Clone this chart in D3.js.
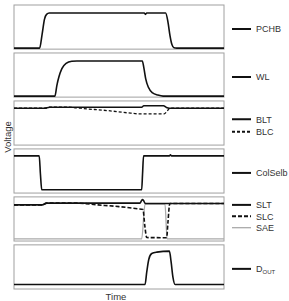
<!DOCTYPE html>
<html>
<head>
<meta charset="utf-8">
<script src="https://cdn.jsdelivr.net/npm/d3@7"></script>
<style>
  body { margin: 0; background: #fff; }
  text { font-family: "Liberation Sans", Arial, sans-serif; fill: #333; }
</style>
</head>
<body>
<div id="container"></div>
<script>
/* DATA - time in ns-ish units, voltage normalised to VDD */
const panels = ["PCHB", "WL", "BL", "ColSelb", "SL", "DOUT"];

const pchb = [[0,0],[1.22,0],[1.34,0.4],[1.45,0.82],[1.55,0.96],[1.68,1],[6.2,1],[6.26,0.96],[6.32,1],[7.22,1],[7.33,0.75],[7.43,0.35],[7.52,0.1],[7.62,0.01],[7.75,0],[10,0]];
const wl = [[0,0],[1.95,0],[2.04,0.3],[2.14,0.55],[2.28,0.78],[2.48,0.93],[2.75,0.99],[3,1],[6.11,1],[6.18,0.82],[6.27,0.5],[6.4,0.25],[6.6,0.09],[6.85,0.03],[7.1,0],[10,0]];
const blt = [[0,1.02],[1.45,1.02],[1.7,1.05],[6.08,1.05],[6.18,1.09],[7.12,1.09],[7.26,1.04],[7.4,1.02],[10,1.02]];
const blc = [[0,1.02],[1.45,1.02],[1.7,1.05],[2.5,1.05],[3.5,1.0],[4.5,0.95],[5.4,0.89],[6.0,0.86],[7.15,0.86],[7.28,0.93],[7.42,1.02],[10,1.02]];
const colselb = [[0,1.03],[1.2,1.03],[1.26,0.5],[1.32,0.07],[1.4,0.066],[6.08,0.066],[6.12,0.5],[6.17,1.03],[7.4,1.03],[7.45,1.06],[7.5,1.03],[10,1.03]];
const slt = [[0,1.0],[1.35,1.0],[1.55,1.05],[6.0,1.05],[6.07,1.12],[6.13,1.15],[6.19,1.1],[6.25,1.04],[10,1.04]];
const slc = [[0,1.0],[1.35,1.0],[1.55,1.05],[3.0,1.05],[4.0,1.0],[5.0,0.95],[5.9,0.89],[6.14,0.87],[6.23,0.4],[6.32,0.07],[7.27,0.066],[7.33,0.5],[7.42,1.04],[10,1.04]];
const sae = [[0,0.03],[6.08,0.03],[6.24,1.02],[7.19,1.02],[7.29,0.03],[10,0.03]];
const dout = [[0,0.1],[6.24,0.1],[6.32,0.45],[6.42,0.82],[6.56,0.98],[6.8,1.02],[7.4,1.05],[7.48,0.75],[7.57,0.3],[7.67,0.1],[10,0.1]];

/* series -> panel, line style */
const series = [
  { name: "PCHB", panel: "PCHB", data: pchb, style: "solid" },
  { name: "WL", panel: "WL", data: wl, style: "solid" },
  { name: "BLC", panel: "BL", data: blc, style: "dash" },
  { name: "BLT", panel: "BL", data: blt, style: "solid" },
  { name: "ColSelb", panel: "ColSelb", data: colselb, style: "solid" },
  { name: "SAE", panel: "SL", data: sae, style: "gray" },
  { name: "SLC", panel: "SL", data: slc, style: "dash2" },
  { name: "SLT", panel: "SL", data: slt, style: "solid" },
  { name: "DOUT", panel: "DOUT", data: dout, style: "solid" }
];

const legendGroups = {
  PCHB: ["PCHB"], WL: ["WL"], BL: ["BLT", "BLC"], ColSelb: ["ColSelb"],
  SL: ["SLT", "SLC", "SAE"], DOUT: ["DOUT"]
};

/* CONSTANTS */
const width = 289;
const height = 301;
const left = 14, right = 224;

const svg = d3.select("#container")
  .append("svg")
  .attr("width", width)
  .attr("height", height);

/* SCALES */
const xScale = d3.scaleLinear().domain([0, 10]).range([left, right]);

const panelScale = d3.scaleBand()
  .domain(panels)
  .range([5, 289])
  .paddingInner(0.08)
  .paddingOuter(0);

const yFor = p => {
  const top = panelScale(p), bottom = top + panelScale.bandwidth();
  return d3.scaleLinear().domain([0, 1]).range([bottom - 1, top + 8]);
};

const styles = {
  solid: { stroke: "#111", width: 1.6, dash: null },
  dash: { stroke: "#111", width: 1.3, dash: "3,2" },
  dash2: { stroke: "#111", width: 1.6, dash: "4,2" },
  gray: { stroke: "#aaa", width: 1.3, dash: null }
};

// panel frames
svg.selectAll("rect.frame")
  .data(panels)
  .join("rect")
  .attr("class", "frame")
  .attr("x", left)
  .attr("y", d => panelScale(d))
  .attr("width", right - left)
  .attr("height", panelScale.bandwidth())
  .attr("fill", "white")
  .attr("stroke", "#a0a0a0")
  .attr("stroke-width", 1);

// signal traces
series.forEach(s => {
  const y = yFor(s.panel);
  const st = styles[s.style];
  const line = d3.line()
    .x(d => xScale(d[0]))
    .y(d => y(d[1]))
    .curve(d3.curveMonotoneX);
  svg.append("path")
    .datum(s.data)
    .attr("d", line)
    .attr("fill", "none")
    .attr("stroke", st.stroke)
    .attr("stroke-width", st.width)
    .attr("stroke-dasharray", st.dash);
});

// legends (first entry offset from panel top, row spacing)
const legendStart = { 1: [24, 0], 2: [18.3, 12.4], 3: [8, 11.4] };
panels.forEach(p => {
  const names = legendGroups[p];
  const [off, gap] = legendStart[names.length];
  const y0 = panelScale(p) + off;
  names.forEach((n, i) => {
    const s = series.find(d => d.name === n);
    const st = styles[s.style];
    const yy = y0 + i * gap;
    svg.append("line")
      .attr("x1", 232).attr("x2", 251)
      .attr("y1", yy).attr("y2", yy)
      .attr("stroke", st.stroke)
      .attr("stroke-width", s.style === "gray" ? 1.3 : 2)
      .attr("stroke-dasharray", st.dash);
    const t = svg.append("text")
      .attr("x", 256)
      .attr("y", yy + 3.3)
      .style("font-size", "9px");
    if (n === "DOUT") {
      t.append("tspan").text("D");
      t.append("tspan").attr("dy", 2).style("font-size", "6px").text("OUT");
    } else {
      t.text(n);
    }
  });
});

// axis titles
svg.append("text")
  .attr("transform", "translate(10.5,137) rotate(-90)")
  .attr("text-anchor", "middle")
  .style("font-size", "9.5px")
  .text("Voltage");

svg.append("text")
  .attr("x", 116)
  .attr("y", 300)
  .attr("text-anchor", "middle")
  .style("font-size", "9.5px")
  .text("Time");
</script>
</body>
</html>
